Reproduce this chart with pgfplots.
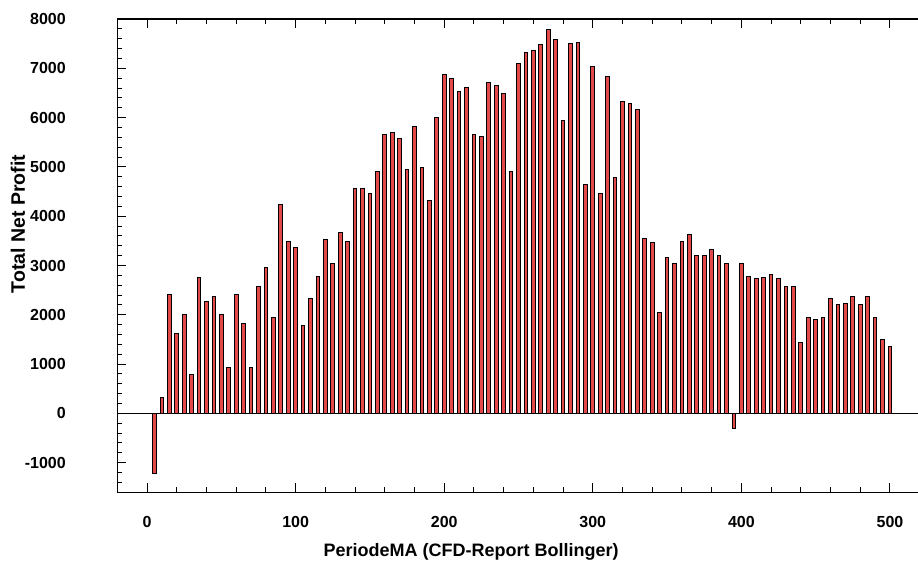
\documentclass[border=0pt]{standalone}
\usepackage{fontspec}
\setmainfont{Liberation Sans}
\usepackage{pgfplots}
\usepackage{pgfplotstable}
\pgfplotsset{compat=1.18}
\definecolor{barred}{RGB}{226,74,74}

\pgfplotstableread{
x y
5 -1223
10 331
15 2414
20 1629
25 2002
30 791
35 2753
40 2278
45 2379
50 2002
55 939
60 2414
65 1832
70 939
75 2576
80 2955
85 1953
90 4239
95 3489
100 3373
105 1785
110 2327
115 2779
120 3523
125 3049
130 3660
135 3495
140 4570
145 4570
150 4456
155 4909
160 5659
165 5694
170 5572
175 4949
180 5822
185 4984
190 4320
195 5998
200 6870
205 6789
210 6538
215 6619
220 5659
225 5619
230 6708
235 6653
240 6497
245 4915
250 7093
255 7329
260 7363
265 7485
270 7783
275 7580
280 5943
285 7499
290 7531
295 4639
300 7039
305 4456
310 6836
315 4793
320 6335
325 6282
330 6160
335 3550
340 3460
345 2043
350 3170
355 3037
360 3495
365 3625
370 3205
375 3205
380 3327
385 3205
390 3037
395 -310
400 3037
405 2779
410 2732
415 2750
420 2819
425 2744
430 2576
435 2576
440 1446
445 1941
450 1901
455 1953
460 2327
465 2211
470 2237
475 2373
480 2211
485 2373
490 1941
495 1495
500 1365
}\profit

\begin{document}
\begin{tikzpicture}
\begin{axis}[
  name=ax,
  scale only axis,
  width=802.4pt, height=473.3pt,
  xmin=-20, xmax=520, ymin=-1600, ymax=8000,
  xtick={0,100,...,500}, xticklabels={0,100,200,300,400,500},
  ytick={-1000,0,...,8000},
  yticklabels={-1000,0,1000,2000,3000,4000,5000,6000,7000,8000},
  minor xtick={-20,0,...,520}, minor ytick={-1600,-1400,...,8000},
  ytick pos=left, xtick pos=both,
  tick align=inside,
  major tick length=9pt, minor tick length=5pt,
  tick style={black, line width=1pt},
  axis line style={line width=1.3pt},
  tick label style={font=\bfseries\fontsize{16}{19}\selectfont},
  xticklabel style={yshift=-21pt},
  yticklabel style={xshift=-48pt},
  xlabel={PeriodeMA (CFD-Report Bollinger)},
  ylabel={Total Net Profit},
  xlabel style={font=\bfseries\fontsize{18}{21}\selectfont,
    at={(rel axis cs:0.441,-0.126)}, anchor=center},
  ylabel style={font=\bfseries\fontsize{19.5}{22}\selectfont,
    at={(rel axis cs:-0.124,0.567)}, anchor=center},
]
\addplot[ybar, bar width=2.5, fill=barred, draw=black, line width=1pt] table[x=x,y=y]{\profit};
\draw[black, line width=1.2pt] (axis cs:-20,0) -- (axis cs:520,0);
\end{axis}
\pgfresetboundingbox
\path ([xshift=-117.3pt,yshift=-78pt]ax.south west) rectangle ([xshift=800.7pt,yshift=19pt]ax.north west);
\end{tikzpicture}
\end{document}
